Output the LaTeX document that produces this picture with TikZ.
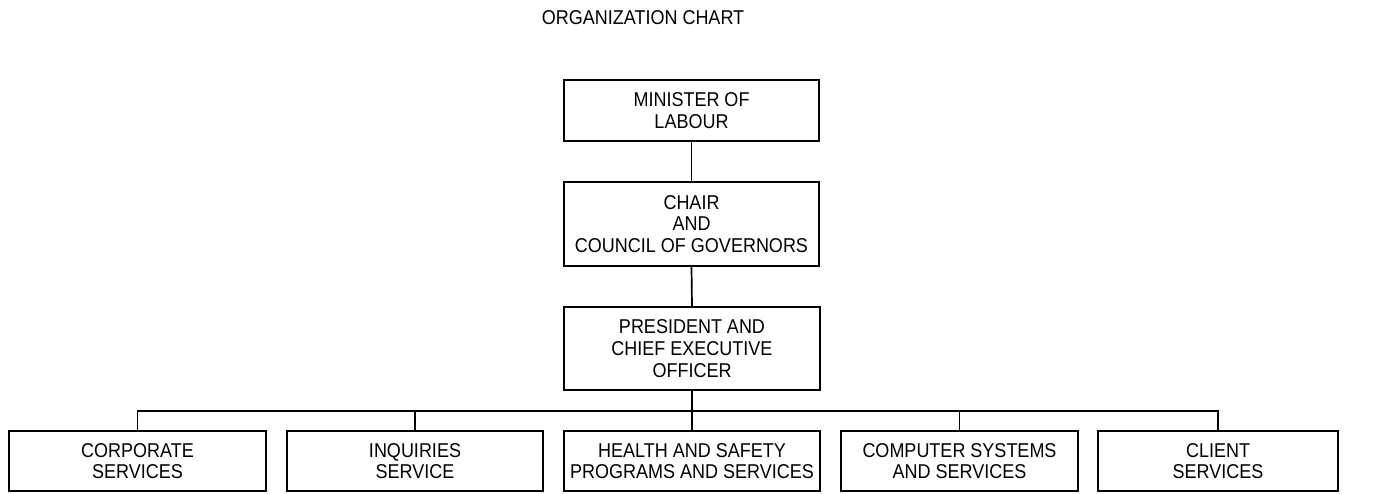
\documentclass[tikz,border=0pt]{standalone}
\usepackage{fontspec}
\setmainfont{Liberation Sans}[FakeStretch=0.9]
\begin{document}
\begin{tikzpicture}[x=1pt,y=-1pt,
  box/.style={draw=black,line width=1.7pt,rectangle,inner sep=0pt,align=center,
    font=\fontsize{20}{21.7}\selectfont},
  conn/.style={draw=black,line width=1.7pt}]
\useasboundingbox (0,0) rectangle (1381,493);
\node[anchor=base,font=\fontsize{20}{22}\selectfont] (title) at (643,24) {ORGANIZATION CHART};
\node[box,minimum width=255pt,minimum height=61pt] (min) at (691.5,110.5) {MINISTER OF\\LABOUR};
\node[box,minimum width=255pt,minimum height=84pt] (chair) at (691.5,224) {CHAIR\\AND\\COUNCIL OF GOVERNORS};
\node[box,minimum width=256pt,minimum height=83pt] (pres) at (692,348.5) {PRESIDENT AND\\CHIEF EXECUTIVE\\OFFICER};
\node[box,minimum width=257pt,minimum height=60pt] (corp) at (137.5,461) {CORPORATE\\SERVICES};
\node[box,minimum width=256pt,minimum height=60pt] (inq) at (415,461) {INQUIRIES\\SERVICE};
\node[box,minimum width=256pt,minimum height=60pt] (health) at (692,461) {HEALTH AND SAFETY\\PROGRAMS AND SERVICES};
\node[box,minimum width=237pt,minimum height=60pt] (comp) at (959.5,461) {COMPUTER SYSTEMS\\AND SERVICES};
\node[box,minimum width=240pt,minimum height=60pt] (client) at (1218,461) {CLIENT\\SERVICES};
\coordinate (bus) at (0,411);
\draw[conn] (min.south) -- (chair.north);
\draw[conn] (chair.south) -- (pres.north);
\draw[conn] (pres.south) -- (health.north);
\draw[conn] (corp.north) -- (corp.north |- bus) -- (client.north |- bus) -- (client.north);
\draw[conn] (inq.north) -- (inq.north |- bus);
\draw[conn] (comp.north) -- (comp.north |- bus);
\end{tikzpicture}
\end{document}
